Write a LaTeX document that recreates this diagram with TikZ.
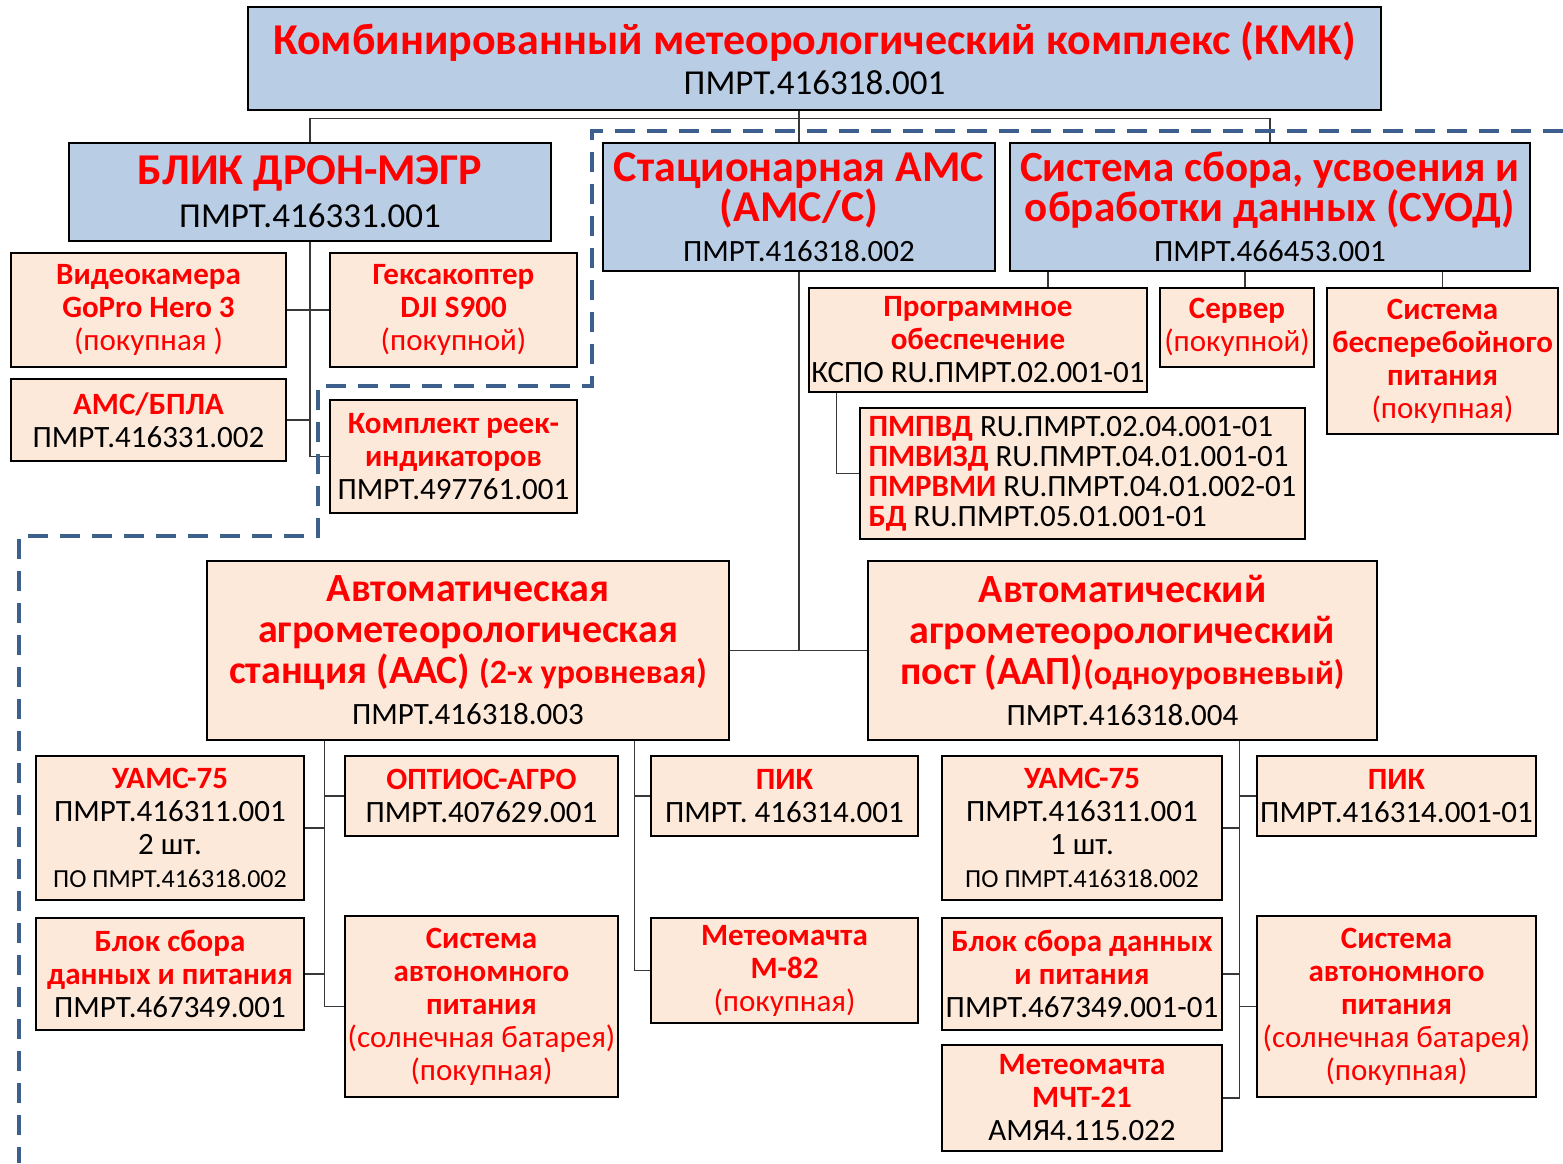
\documentclass[tikz,border=0pt]{standalone}
\usepackage{fontspec}
\setmainfont{Carlito}
\usepackage{xcolor}
\definecolor{boxblue}{HTML}{B9CDE5}
\definecolor{boxpeach}{HTML}{FDE9D9}
\definecolor{zonedash}{HTML}{3D5F8E}
\definecolor{linkgray}{HTML}{383838}
\usepackage{tikz}
\usetikzlibrary{calc}
\newcommand{\hd}[1]{{\bfseries\color{red}#1}}
\newcommand{\rd}[1]{{\color{red}#1}}
\newcommand{\hdsz}[2]{{\fontsize{#1}{#1}\selectfont\bfseries\color{red}#2}}

\begin{document}
\begin{tikzpicture}[x=1pt,y=-1pt,
  sz/.style 2 args={minimum width=#1,minimum height=#2},
  bbox/.style={draw,line width=2.5pt,fill=boxblue,align=center,inner sep=0pt},
  pbox/.style={draw,line width=2.5pt,fill=boxpeach,align=center,inner sep=0pt,font=\fontsize{31}{33}\selectfont},
  link/.style={draw=linkgray,line width=1.3pt},
  zone/.style={draw=zonedash,line width=4pt,dash pattern=on 20pt off 12pt}]
\useasboundingbox (0,0) rectangle (1563,1163);
% upper level
\node[bbox,sz={1133pt}{103pt},font=\fontsize{35}{40}\selectfont] (top) at (814.5,58.5) {\hdsz{44}{Комбинированный метеорологический комплекс (КМК)}\\ПМРТ.416318.001};
\node[bbox,sz={482pt}{98pt},font=\fontsize{35}{43}\selectfont] (blik) at (310,192) {\hdsz{44}{БЛИК ДРОН-МЭГР}\\ПМРТ.416331.001};
\node[bbox,sz={392pt}{128pt},font=\fontsize{31}{40}\selectfont] (ams) at (799,207) {\hdsz{44}{Стационарная АМС}\\\hdsz{44}{(АМС/С)}\\ПМРТ.416318.002};
\node[bbox,sz={520pt}{128pt},font=\fontsize{31}{40}\selectfont] (suod) at (1270,207) {\hdsz{43}{Система сбора, усвоения и}\\\hdsz{43}{обработки данных (СУОД)}\\ПМРТ.466453.001};
% BLIK parts
\node[pbox,sz={275pt}{114pt}] (video) at (148.5,310) {\hd{Видеокамера}\\\hd{GoPro Hero 3}\\\rd{(покупная )}};
\node[pbox,sz={247pt}{114pt}] (hexa) at (453.5,310) {\hd{Гексакоптер}\\\hd{DJI S900}\\\rd{(покупной)}};
\node[pbox,sz={275pt}{82pt}] (amsbpla) at (148.5,420) {\hd{АМС/БПЛА}\\ПМРТ.416331.002};
\node[pbox,sz={247pt}{113pt}] (reek) at (453.5,456.5) {\hd{Комплект реек-}\\\hd{индикаторов}\\ПМРТ.497761.001};
% SUOD parts
\node[pbox,sz={338pt}{104pt}] (po) at (978,340) {\hd{Программное}\\\hd{обеспечение}\\КСПО RU.ПМРТ.02.001-01};
\node[pbox,sz={154pt}{79pt}] (server) at (1237,327.5) {\hd{Сервер}\\\rd{(покупной)}};
\node[pbox,sz={231pt}{146pt}] (ups) at (1442.5,361) {\hd{Система}\\\hd{бесперебойного}\\\hd{питания}\\\rd{(покупная)}};
\node[pbox,sz={445pt}{131pt},align=left,font=\fontsize{31}{30}\selectfont] (pmlist) at (1082.5,473.5) {\hd{ПМПВД} RU.ПМРТ.02.04.001-01\\\hd{ПМВИЗД} RU.ПМРТ.04.01.001-01\\\hd{ПМРВМИ} RU.ПМРТ.04.01.002-01\\\hd{БД} RU.ПМРТ.05.01.001-01};
% stations
\node[pbox,sz={522pt}{179pt},font=\fontsize{31}{41}\selectfont] (aas) at (468,650.5) {\hdsz{40}{Автоматическая}\\\hdsz{40}{агрометеорологическая}\\\hdsz{40}{станция (ААС) }\hdsz{34}{(2-х уровневая)}\\ПМРТ.416318.003};
\node[pbox,sz={509pt}{179pt},font=\fontsize{31}{41}\selectfont] (aap) at (1122.5,650.5) {\hdsz{40}{Автоматический}\\\hdsz{40}{агрометеорологический}\\\hdsz{40}{пост (ААП)}\hdsz{34}{(одноуровневый)}\\ПМРТ.416318.004};
% AAS parts
\node[pbox,sz={268pt}{144pt}] (uams1) at (170,828) {\hd{УАМС-75}\\ПМРТ.416311.001\\2 шт.\\{\fontsize{26}{26}\selectfont ПО ПМРТ.416318.002}};
\node[pbox,sz={273pt}{80pt}] (optios) at (481.5,796) {\hd{ОПТИОС-АГРО}\\ПМРТ.407629.001};
\node[pbox,sz={267pt}{80pt}] (pik1) at (784.5,796) {\hd{ПИК}\\ПМРТ. 416314.001};
\node[pbox,sz={268pt}{112pt}] (blok1) at (170,974) {\hd{Блок сбора}\\\hd{данных и питания}\\ПМРТ.467349.001};
\node[pbox,sz={273pt}{181pt}] (sap1) at (481.5,1006.5) {\hd{Система}\\\hd{автономного}\\\hd{питания}\\\rd{(солнечная батарея)}\\\rd{(покупная)}};
\node[pbox,sz={267pt}{105pt}] (mast1) at (784.5,970.5) {\hd{Метеомачта}\\\hd{М-82}\\\rd{(покупная)}};
% AAP parts
\node[pbox,sz={280pt}{144pt}] (uams2) at (1082,828) {\hd{УАМС-75}\\ПМРТ.416311.001\\1 шт.\\{\fontsize{26}{26}\selectfont ПО ПМРТ.416318.002}};
\node[pbox,sz={279pt}{80pt}] (pik2) at (1396.5,796) {\hd{ПИК}\\ПМРТ.416314.001-01};
\node[pbox,sz={280pt}{112pt}] (blok2) at (1082,974) {\hd{Блок сбора данных}\\\hd{и питания}\\ПМРТ.467349.001-01};
\node[pbox,sz={280pt}{106pt}] (mast2) at (1082,1098) {\hd{Метеомачта}\\\hd{МЧТ-21}\\АМЯ4.115.022};
\node[pbox,sz={279pt}{181pt}] (sap2) at (1396.5,1006.5) {\hd{Система}\\\hd{автономного}\\\hd{питания}\\\rd{(солнечная батарея)}\\\rd{(покупная)}};
% connectors
\draw[link] (top.south -| ams.north) -- (ams.north);
\draw[link] (blik.north) -- ++(0,-23) -| (suod.north);
\draw[link] (blik.south) |- (reek.west);
\draw[link] (video.east) -- (hexa.west);
\draw[link] (amsbpla.east) -- (amsbpla.east -| blik.south);
\draw[link] ([xshift=70pt]po.north) -- ([xshift=70pt]po.north |- suod.south);
\draw[link] ([xshift=8pt]server.north) -- ([xshift=8pt]server.north |- suod.south);
\draw[link] (ups.north) -- (ups.north |- suod.south);
\draw[link] ([xshift=29pt]po.south west) |- (pmlist.west);
\draw[link] (ams.south) -- (ams.south |- aas.east);
\draw[link] (aas.east) -- (aap.west);
\coordinate (busA) at ($(uams1.east)!.5!(optios.west)$);
\coordinate (busB) at ($(optios.east)!.5!(pik1.west)$);
\coordinate (busC) at ($(uams2.east)!.5!(pik2.west)$);
\draw[link] (busA |- aas.south) |- (sap1.west);
\draw[link] (uams1.east) -- (uams1.east -| busA);
\draw[link] (optios.west) -- (optios.west -| busA);
\draw[link] (blok1.east) -- (blok1.east -| busA);
\draw[link] (busB |- aas.south) |- (mast1.west);
\draw[link] (pik1.west) -- (pik1.west -| busB);
\draw[link] (busC |- aap.south) |- (mast2.east);
\draw[link] (uams2.east) -- (uams2.east -| busC);
\draw[link] (pik2.west) -- (pik2.west -| busC);
\draw[link] (blok2.east) -- (blok2.east -| busC);
\draw[link] (sap2.west) -- (sap2.west -| busC);
% stationary part boundary
\draw[zone] (1563,131) -| (592,386) -| (318,536) -| (19,1163);
\end{tikzpicture}
\end{document}
